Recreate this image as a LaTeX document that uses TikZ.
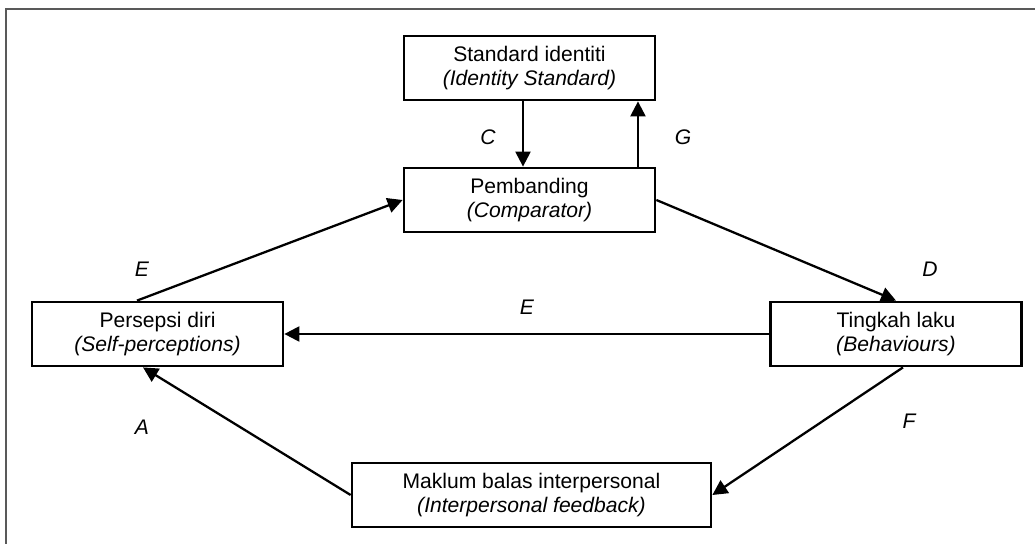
\documentclass[tikz,border=0pt]{standalone}
\usepackage{fontspec}
\setmainfont{Liberation Sans}
\usetikzlibrary{arrows.meta}

\begin{document}
\begin{tikzpicture}[x=0.02cm,y=-0.02cm,
    box/.style={draw,line width=1.6pt,minimum width=5.02cm,minimum height=1.28cm,inner sep=0pt,align=center,
        font=\fontsize{12}{14}\selectfont},
    lbl/.style={font=\fontsize{12}{14}\selectfont\itshape},
    arr/.style={line width=1.3pt,-{Triangle[width=0.3cm,length=0.3cm]}}]
    % Frame
    \useasboundingbox (0,0) rectangle (1035,544);
    \draw[line width=0.04cm,black!65] (1035,9)--(6,9)--(6,544);
    % Boxes
    \node[box] (std) at (529.5,68) {Standard identiti\\\textit{(Identity Standard)}};
    \node[box] (cmp) at (529.5,200) {Pembanding\\\textit{(Comparator)}};
    \node[box] (per) at (157.5,334) {Persepsi diri\\\textit{(Self-perceptions)}};
    \node[box] (tin) at (896,334) {Tingkah laku\\\textit{(Behaviours)}};
    \node[box,minimum width=7.18cm] (mak) at (531.5,495) {Maklum balas interpersonal\\\textit{(Interpersonal feedback)}};
    % Arrows
    \draw[arr] ([xshift=-0.13cm]std.south)--([xshift=-0.13cm]cmp.north);
    \draw[arr] ([xshift=2.17cm]cmp.north)--([xshift=2.17cm]std.south);
    \draw[arr] ([xshift=-0.41cm]per.north)--(cmp.west);
    \draw[arr] (cmp.east)--(tin.north);
    \draw[arr] (tin.west)--(per.east);
    \draw[arr] ([xshift=0.14cm]tin.south)--(mak.east);
    \draw[arr] (mak.west)--([xshift=-0.29cm]per.south);
    % Labels
    \node[lbl] (lc) at (488,137) {C};
    \node[lbl] (lg) at (683,137) {G};
    \node[lbl] (le1) at (142,269) {E};
    \node[lbl] (ld) at (930,269) {D};
    \node[lbl] (le2) at (527,307) {E};
    \node[lbl] (la) at (142,427) {A};
    \node[lbl] (lf) at (909,421) {F};
\end{tikzpicture}
\end{document}
